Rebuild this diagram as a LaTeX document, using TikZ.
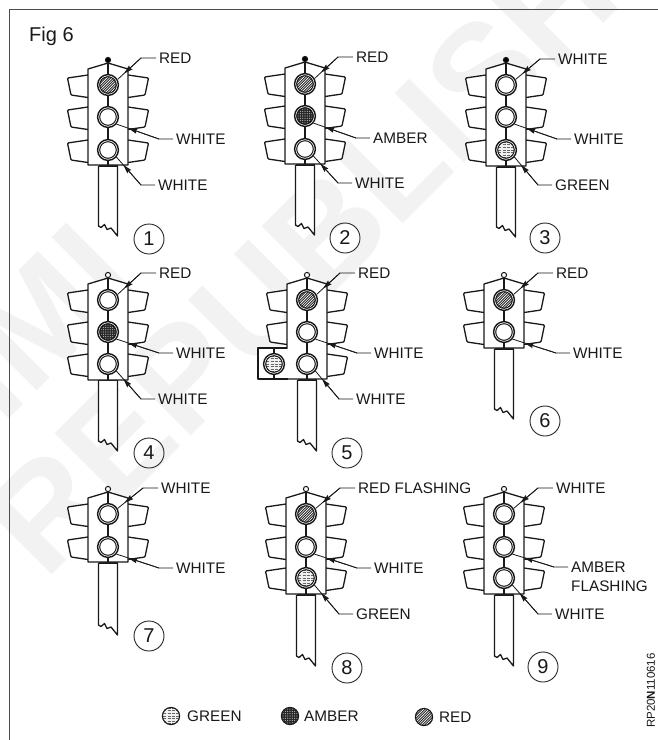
\documentclass[tikz,border=0pt]{standalone}
\usepackage{fontspec}
\setmainfont{Liberation Sans}
\usetikzlibrary{calc,arrows.meta}
\tikzset{
  x=1pt,y=-1pt,
  ln/.style={line width=1.3pt,black!90,line join=round},
  lbl/.style={anchor=west,inner sep=1pt,font=\fontsize{15.3}{16}\selectfont,text=black!90},
  lamp/.style={circle,minimum size=22pt,inner sep=0pt,outer sep=0pt},
  num/.style={circle,draw=black!85,line width=0.9pt,minimum size=30pt,inner sep=0pt,font=\fontsize{20}{20}\selectfont,text=black!90},
  lead/.style={line width=0.8pt,black!90},
  head/.style={line width=0.8pt,black!90,-{Stealth[length=9pt,width=5pt,inset=1pt]}},
  wm/.style={rotate=45,anchor=base west,inner sep=0pt,text=black!5,font=\fontsize{142}{142}\selectfont\bfseries}
}
% patterned discs
\newcommand{\redfill}[3]{\begin{scope}\clip (#1,#2) circle (#3);
  \fill[white] (#1,#2) circle (#3);
  \foreach \d in {-12,-9.4,...,12}{\draw[line width=0.9pt,black!85] ($(#1,#2)+(\d-14,14)$) -- ($(#1,#2)+(\d+14,-14)$);}
  \end{scope}}
\newcommand{\amberfill}[3]{\begin{scope}\clip (#1,#2) circle (#3);
  \fill[black!85] (#1,#2) circle (#3);
  \foreach \i in {-4,...,4}{\foreach \j in {-4,...,4}{\fill[black!30] ($(#1,#2)+(\i*2.3,\j*2.3)$) circle (0.62);}}
  \end{scope}}
\newcommand{\greenfill}[3]{\begin{scope}\clip (#1,#2) circle (#3);
  \fill[black!6] (#1,#2) circle (#3);
  \foreach \d in {-7.8,-5.2,...,9}{\draw[line width=0.7pt,black!60,dash pattern=on 3pt off 1.3pt] ($(#1,#2)+(-12,\d)$) -- ($(#1,#2)+(12,\d)$);}
  \end{scope}}
\newcommand{\whitefill}[3]{\fill[white] (#1,#2) circle (#3);}
% lamp: id x y kind(white/red/amber/green)
\newcommand{\lampat}[4]{%
  \node[lamp] (#1) at (#2,#3) {};
  \fill[white] (#2,#3) circle (10.5);
  \csname #4fill\endcsname{#2}{#3}{8.6}
  \draw[line width=1.4pt,black!90] (#2,#3) circle (10.4);
  \draw[line width=1pt,black!90] (#2,#3) circle (8.3);
}
\newcommand{\legendlamp}[4]{%
  \node[lamp,minimum size=18pt] (#1) at (#2,#3) {};
  \csname #4fill\endcsname{#2}{#3}{8.6}
  \draw[line width=1.1pt,black!90] (#2,#3) circle (8.6);
}
% one visor pair at height y
\newcommand{\visors}[2]{%
  \foreach \s in {1,-1}{
   \draw[ln,fill=white,rounded corners=1pt] ($(#1,#2)+(\s*20,-10)$) -- ($(#1,#2)+(\s*40.5,-7)$) -- ($(#1,#2)+(\s*37,10)$) -- ($(#1,#2)+(\s*20,12.5)$);}
}
% housing: cx top-lamp-y fill bottom
\newcommand{\housing}[4]{%
  \draw[ln,fill=white] (#1-20,#4) -- (#1-20,#2-16) -- (#1,#2-22) -- (#1+20,#2-16) -- (#1+20,#4) -- cycle;
  \draw[line width=1pt,black!90,fill=#3] (#1,#2-25) circle (2.6);
  \draw[ln] (#1,#2-22.4) -- (#1,#4);
}
% pole: cx top bottom
\newcommand{\pole}[3]{%
  \draw[ln,fill=white] (#1-9.5,#2) -- (#1-9.5,#3-10) -- (#1-7,#3-8.5) -- (#1-3.5,#3-11.5) -- (#1-1,#3-6.5) -- (#1+3,#3-8) -- (#1+9.5,#3) -- (#1+9.5,#2);
  \draw[line width=2pt,black!90] (#1-9.5,#2) -- (#1+9.5,#2);
}
% leader: label-node lamp-node angle stub
\newcommand{\leader}[4]{%
  \draw[lead] ($(#1.west)+(-2,0)$) -- ++(-#4,0) coordinate (e#1) -- (#2.#3);
  \draw[head] (e#1) -- ($(e#1)!0.72!(#2.#3)$);
}
\begin{document}
\begin{tikzpicture}
\useasboundingbox (0,0) rectangle (658,740);
\fill[white] (0,0) rectangle (658,740);
% watermark
\node[wm] (wma) at (-70,498) {NIMI};
\node[wm] (wmb) at (45,582) {REPUBLISHED};
% frame
\coordinate (fa) at (9,740); \coordinate (fb) at (9,9); \coordinate (fc) at (658,9);
\draw[line width=1pt,black!70] (fa) -- (fb) -- (fc);
\node[anchor=west,inner sep=0pt,font=\fontsize{20}{20}\selectfont,text=black!90] (fig) at (29,36) {Fig 6};

% === 1
\pole{108}{166}{236}\visors{108}{85}\visors{108}{117}\visors{108}{150}\housing{108}{85}{black}{165}
\lampat{l1a}{108}{85}{red}\lampat{l1b}{108}{117}{white}\lampat{l1c}{108}{150}{white}
\node[lbl] (t1a) at (158,58) {RED}; \node[lbl] (t1b) at (175,139) {WHITE}; \node[lbl] (t1c) at (157,185) {WHITE};
\leader{t1a}{l1a}{30}{15}\leader{t1b}{l1b}{-40}{14}\leader{t1c}{l1c}{-40}{14}
\node[num] (n1) at (149,239) {1};
% === 2
\pole{305}{165}{235}\visors{305}{84}\visors{305}{116}\visors{305}{149}\housing{305}{84}{black}{164}
\lampat{l2a}{305}{84}{red}\lampat{l2b}{305}{116}{amber}\lampat{l2c}{305}{149}{white}
\node[lbl] (t2a) at (355,57) {RED}; \node[lbl] (t2b) at (372,138) {AMBER}; \node[lbl] (t2c) at (354,183) {WHITE};
\leader{t2a}{l2a}{30}{15}\leader{t2b}{l2b}{-40}{14}\leader{t2c}{l2c}{-40}{14}
\node[num] (n2) at (345,238) {2};
% === 3
\pole{506}{167}{237}\visors{506}{85}\visors{506}{117}\visors{506}{150}\housing{506}{85}{black}{166}
\lampat{l3a}{506}{85}{white}\lampat{l3b}{506}{117}{white}\lampat{l3c}{506}{150}{green}
\node[lbl] (t3a) at (557,59) {WHITE}; \node[lbl] (t3b) at (573,139) {WHITE}; \node[lbl] (t3c) at (554,185) {GREEN};
\leader{t3a}{l3a}{30}{15}\leader{t3b}{l3b}{-40}{14}\leader{t3c}{l3c}{-40}{14}
\node[num] (n3) at (545,238) {3};
% === 4
\pole{108}{380}{451}\visors{108}{300}\visors{108}{332}\visors{108}{364}\housing{108}{300}{white}{380}
\lampat{l4a}{108}{300}{white}\lampat{l4b}{108}{332}{amber}\lampat{l4c}{108}{364}{white}
\node[lbl] (t4a) at (158,273) {RED}; \node[lbl] (t4b) at (175,353) {WHITE}; \node[lbl] (t4c) at (157,399) {WHITE};
\leader{t4a}{l4a}{30}{15}\leader{t4b}{l4b}{-40}{14}\leader{t4c}{l4c}{-40}{14}
\node[num] (n4) at (149,453) {4};
% === 5
\pole{307}{380}{451}\visors{307}{300}\visors{307}{332}\visors{307}{364}
\housing{307}{300}{white}{379}
\draw[ln,fill=white] (288,379) -- (258,379) -- (258,348) -- (287,348);
\fill[white] (258.7,348.7) rectangle (287.7,378.3);
\draw[ln] (274,348) -- (274,379);
\lampat{l5d}{274}{364}{green}
\lampat{l5a}{307}{300}{red}\lampat{l5b}{307}{332}{white}\lampat{l5c}{307}{364}{white}
\node[lbl] (t5a) at (357,273) {RED}; \node[lbl] (t5b) at (373,353) {WHITE}; \node[lbl] (t5c) at (355,399) {WHITE};
\leader{t5a}{l5a}{30}{15}\leader{t5b}{l5b}{-40}{14}\leader{t5c}{l5c}{-40}{14}
\node[num] (n5) at (347,453) {5};
% === 6
\pole{504}{349}{419}\visors{504}{300}\visors{504}{332}\housing{504}{300}{white}{348}
\lampat{l6a}{504}{300}{red}\lampat{l6b}{504}{332}{white}
\node[lbl] (t6a) at (555,273) {RED}; \node[lbl] (t6b) at (572,353) {WHITE};
\leader{t6a}{l6a}{30}{15}\leader{t6b}{l6b}{-40}{14}
\node[num] (n6) at (545,421) {6};
% === 7
\pole{108}{563}{635}\visors{108}{514}\visors{108}{547}\housing{108}{514}{white}{562}
\lampat{l7a}{108}{514}{white}\lampat{l7b}{108}{547}{white}
\node[lbl] (t7a) at (160,488) {WHITE}; \node[lbl] (t7b) at (175,568) {WHITE};
\leader{t7a}{l7a}{30}{15}\leader{t7b}{l7b}{-40}{14}
\node[num] (n7) at (149,636) {7};
% === 8
\pole{306}{595}{666}\visors{306}{514}\visors{306}{547}\visors{306}{578}\housing{306}{514}{white}{594}
\lampat{l8a}{306}{514}{red}\lampat{l8b}{306}{547}{white}\lampat{l8c}{306}{578}{green}
\node[lbl] (t8a) at (357,488) {RED FLASHING}; \node[lbl] (t8b) at (373,568) {WHITE}; \node[lbl] (t8c) at (355,614) {GREEN};
\leader{t8a}{l8a}{30}{15}\leader{t8b}{l8b}{-40}{14}\leader{t8c}{l8c}{-40}{14}
\node[num] (n8) at (347,668) {8};
% === 9
\pole{504}{595}{666}\visors{504}{514}\visors{504}{547}\visors{504}{578}\housing{504}{514}{white}{594}
\lampat{l9a}{504}{514}{white}\lampat{l9b}{504}{547}{white}\lampat{l9c}{504}{578}{white}
\node[lbl] (t9a) at (555,488) {WHITE}; \node[lbl] (t9b) at (570,567) {AMBER}; \node[lbl] (t9d) at (570,586) {FLASHING}; \node[lbl] (t9c) at (554,614) {WHITE};
\leader{t9a}{l9a}{30}{15}\leader{t9b}{l9b}{-40}{14}\leader{t9c}{l9c}{-40}{14}
\node[num] (n9) at (543,667) {9};
% === legend
\legendlamp{la}{171}{716}{green}\node[lbl] (lga) at (186,716) {GREEN};
\legendlamp{lb}{290}{716}{amber}\node[lbl] (lgb) at (303,716) {AMBER};
\legendlamp{lc}{424}{717}{red}\node[lbl] (lgc) at (438,717) {RED};
% id
\node[rotate=90,anchor=west,inner sep=0pt,font=\fontsize{11.5}{12}\selectfont,text=black!90] (rp) at (651,728) {RP20\textbf{N}110616};
\end{tikzpicture}
\end{document}
